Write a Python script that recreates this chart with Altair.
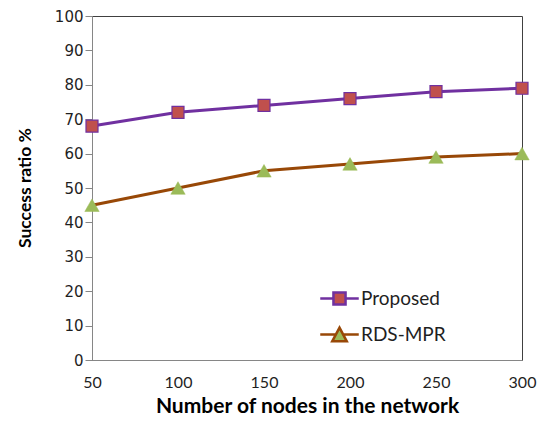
import altair as alt
import pandas as pd

nodes = [50, 100, 150, 200, 250, 300]
proposed = [68, 72, 74, 76, 78, 79]
rds_mpr = [45, 50, 55, 57, 59, 60]
series_names = ["Proposed", "RDS-MPR"]
line_colors = ["#7030A0", "#984807"]
marker_fills = ["#C0504D", "#9BBB59"]
marker_strokes = ["#7030A0", "#9BBB59"]
y_ticks = list(range(0, 101, 10))

df = pd.DataFrame({
    "nodes": nodes * 2,
    "value": proposed + rds_mpr,
    "series": [series_names[0]] * len(nodes) + [series_names[1]] * len(nodes),
})

FONT = "Lato"

x_enc = alt.X(
    "nodes:Q",
    scale=alt.Scale(domain=[50, 300], nice=False, zero=False),
    axis=alt.Axis(
        values=nodes, title="Number of nodes in the network", ticks=False, grid=False,
        labelPadding=14, labelFlush=False, labelFont=FONT, labelFontSize=16,
        titleX=215, titleY=56, titleBaseline="bottom", titleAlign="center",
        titleFontSize=21,
    ),
)
y_enc = alt.Y(
    "value:Q",
    scale=alt.Scale(domain=[0, 100], nice=False),
    axis=alt.Axis(
        values=y_ticks, title="Success ratio %", grid=False, tickSize=7, labelPadding=2,
        labelFont="DejaVu Sans", labelFontSize=15,
        titleX=-66.5, titleY=171.5, titleAngle=270, titleBaseline="middle", titleAlign="center",
        titleFontSize=17.5,
    ),
)

base = alt.Chart(df).encode(x=x_enc, y=y_enc)

lines = base.mark_line(strokeWidth=3).encode(
    stroke=alt.Stroke("series:N", scale=alt.Scale(domain=series_names, range=line_colors), legend=None)
)

square_path = "M-1,-1H1V1H-1Z"
tri_path = "M0,-1.05L1.2,1.05H-1.2Z"

points = base.mark_point(filled=True, opacity=1, size=144).encode(
    shape=alt.Shape("series:N", scale=alt.Scale(domain=series_names, range=[square_path, tri_path]), legend=None),
    fill=alt.Fill("series:N", scale=alt.Scale(domain=series_names, range=marker_fills), legend=None),
    stroke=alt.Stroke("series:N", scale=alt.Scale(domain=series_names, range=marker_strokes), legend=None),
    strokeWidth=alt.StrokeWidth("series:N", scale=alt.Scale(domain=series_names, range=[1.2, 0.5]), legend=None),
)

legend_sq = "M-1.75,0H-0.55M0.55,0H1.75M-0.55,-0.55H0.55V0.55H-0.55Z"
legend_tri = "M-1.75,0H-0.32M0.32,0H1.75M0,-0.62L0.66,0.62H-0.66Z"

leg = alt.Legend(
    title=None, orient="none", legendX=235, legendY=270, symbolSize=484,
    symbolStrokeWidth=2.5, labelFont=FONT, labelFontSize=19, labelColor="#1F1F1F",
    labelOffset=9, rowPadding=12, padding=0,
)

legend_layer = base.mark_point(filled=True, opacity=1, strokeWidth=2.5).transform_filter("false").encode(
    shape=alt.Shape("series:N", scale=alt.Scale(domain=series_names, range=[legend_sq, legend_tri]), legend=leg),
    fill=alt.Fill("series:N", scale=alt.Scale(domain=series_names, range=marker_fills), legend=leg),
    stroke=alt.Stroke("series:N", scale=alt.Scale(domain=series_names, range=line_colors), legend=leg),
)

chart = (
    alt.layer(lines, points, legend_layer)
    .resolve_scale(shape="independent", fill="independent", stroke="independent", strokeWidth="independent")
    .properties(
        width=430, height=344,
        autosize=alt.AutoSizeParams(type="none"),
        padding={"left": 84, "top": 8, "right": 24, "bottom": 56},
    )
    .configure_view(stroke="#404040", strokeWidth=1)
    .configure_axis(
        domainColor="#868686", domainWidth=1, tickColor="#868686", tickWidth=1,
        labelColor="#1F1F1F",
        titleFont=FONT, titleFontWeight="bold", titleColor="#000000",
    )
)

chart.save("out.html", embed_options={"renderer": "svg", "actions": False})
